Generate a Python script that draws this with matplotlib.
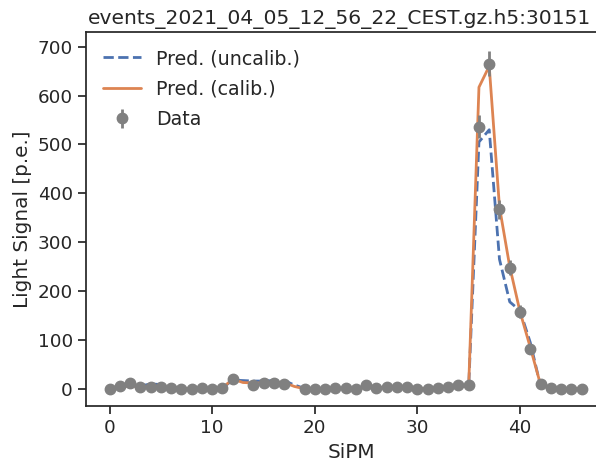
import numpy as np
import matplotlib
matplotlib.use("Agg")
import matplotlib.pyplot as plt
import seaborn as sns

sns.set_theme(style="ticks", context="notebook", font_scale=1.2)
plt.rcParams['font.family'] = ['DejaVu Sans']

# Data points (SiPM channels 13 and 18 have no data)
data_x = [0, 1, 2, 3, 4, 5, 6, 7, 8, 9, 10, 11, 12, 14, 15, 16, 17, 19, 20, 21,
          22, 23, 24, 25, 26, 27, 28, 29, 30, 31, 32, 33, 34, 35, 36, 37, 38, 39,
          40, 41, 42, 43, 44, 45, 46]
data_y = [0, 6, 11, 4, 4, 3, 1, 0, -1, 1, 0, 1, 21, 7, 11, 12, 9, -1, -1, 0,
          1, 2, -1, 7, 2, 3, 3, 3, -1, -1, 2, 4, 7, 7, 536, 665, 367, 248,
          158, 82, 9, 2, 0, 0, 0]
data_err = [0, 2.4, 3.3, 2, 2, 1.7, 1, 0, 0, 1, 0, 1, 4.6, 2.6, 3.3, 3.5, 3, 0, 0, 0,
            1, 1.4, 0, 2.6, 1.4, 1.7, 1.7, 1.7, 0, 0, 1.4, 2, 2.6, 2.6, 23.2, 25.8, 19.2, 15.7,
            12.6, 9.1, 3, 1.4, 0, 0, 0]

# Predictions for all channels
sipm = list(range(47))
pred_uncalib = [1, 4, 7, 6, 10, 9, 3, 1, 1, 1, 1, 2, 18, 17, 16, 16, 17, 17, 8, 1,
                0, 0, 1, 1, 1, 3, 3, 3, 3, 2, 1, 1, 2, 3, 5, 5, 505, 530, 265, 178,
                160, 95, 6, 1, 1, 1, 1]
pred_calib = [1, 4, 6, 4, 4, 3, 2, 1, 1, 1, 1, 2, 20, 13, 12, 12, 13, 13, 5, 0,
              0, 0, 1, 1, 1, 3, 3, 3, 3, 2, 1, 1, 2, 3, 5, 6, 617, 660, 372, 250,
              158, 85, 9, 2, 1, 1, 1]

title = "events_2021_04_05_12_56_22_CEST.gz.h5:30151"

fig = plt.figure(figsize=(5.96, 4.66), dpi=100)
ax_w = 0.89
ax = fig.add_axes([0.1443, 0.1288, ax_w, 0.8026])

ax.plot(sipm, pred_uncalib, ls="--", color="#4C72B0", lw=2, label="Pred. (uncalib.)")
ax.plot(sipm, pred_calib, ls="-", color="#DD8452", lw=2, label="Pred. (calib.)")
ax.errorbar(data_x, data_y, yerr=data_err, fmt="o", color="gray", ecolor="gray",
            markersize=7.5, elinewidth=2, label="Data")

ax.set_xlim(-2.3, 49.4)
ax.set_ylim(-35, 730)
ax.set_xticks([0, 10, 20, 30, 40])
ax.set_yticks([0, 100, 200, 300, 400, 500, 600, 700])
ax.set_xlabel("SiPM")
ax.set_ylabel("Light Signal [p.e.]")
ax.set_title(title, fontsize=14.6, x=(339 - 86) / (ax_w * 596))
ax.legend(loc="upper left", frameon=False, fontsize=13.7, labelspacing=0.6)

fig.savefig("out.png", dpi=100)
